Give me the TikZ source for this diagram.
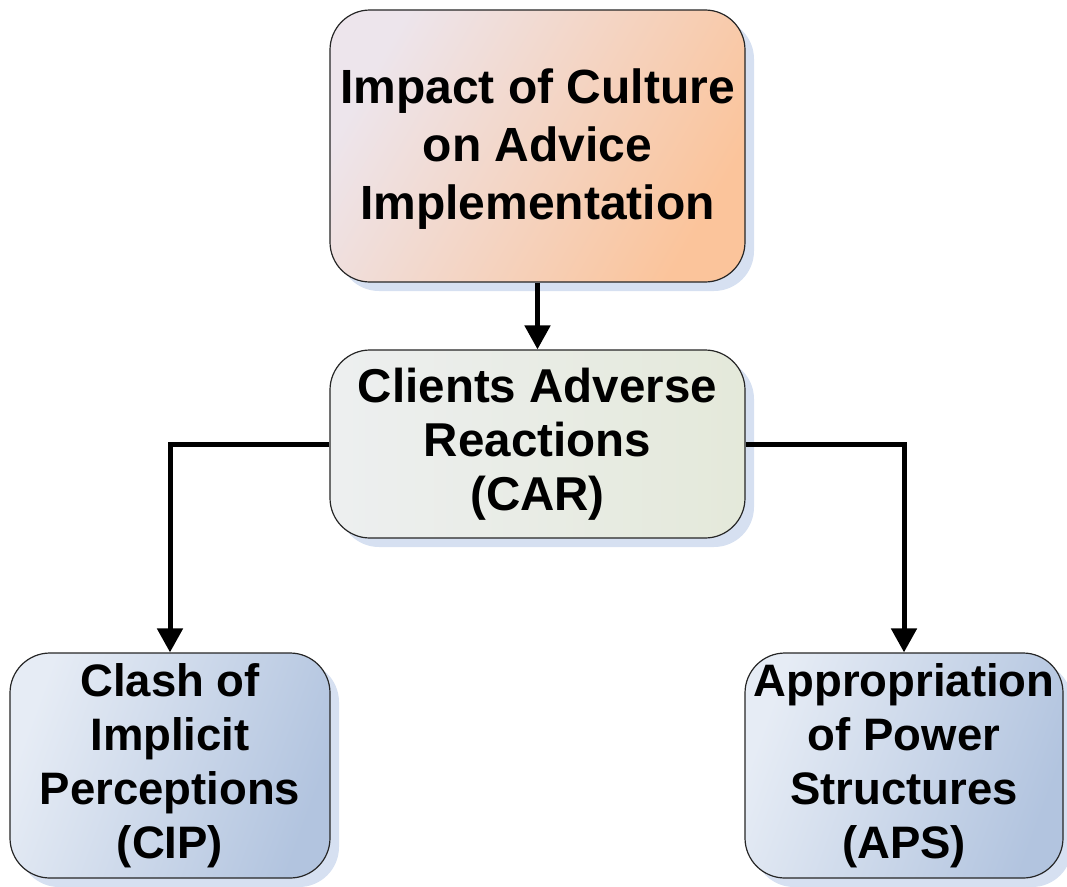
\documentclass[tikz,border=0pt]{standalone}
\usepackage{fontspec}
\setmainfont{Liberation Sans}
\usetikzlibrary{arrows.meta,shadows}
\definecolor{shadowblue}{HTML}{D6E0F1}
\definecolor{orangeL}{HTML}{EDE5EC}
\definecolor{orangeR}{HTML}{FBC49B}
\definecolor{greenL}{HTML}{EDEFF0}
\definecolor{greenR}{HTML}{E4E9DA}
\definecolor{blueL}{HTML}{E6ECF5}
\definecolor{blueR}{HTML}{B2C4DF}
\tikzset{
  box/.style={draw=black!85, line width=1.2pt, rounded corners=40pt, align=center,
    inner sep=0pt, font=\fontsize{45.5}{54}\selectfont\bfseries,
    drop shadow={shadow xshift=9pt, shadow yshift=-9pt, fill=shadowblue, opacity=1}},
  conn/.style={line width=5pt, -{Triangle[width=25pt,length=24pt]}}
}
\begin{document}
\begin{tikzpicture}[x=1pt,y=-1pt]
\useasboundingbox (0,0) rectangle (1067,886);
\node[box, minimum width=415pt, minimum height=272pt, left color=orangeL, right color=orangeR, shading angle=60,
  font=\fontsize{48}{58}\selectfont\bfseries] (top) at (537.5,146)
  {\rule{0pt}{41pt}Impact of Culture\\on Advice\\Implementation};
\node[box, minimum width=415pt, minimum height=188pt, left color=greenL, right color=greenR,
  font=\fontsize{47.5}{54}\selectfont\bfseries] (car) at (537.5,444)
  {Clients Adverse\\Reactions\\(CAR)};
\node[box, minimum width=320pt, minimum height=225pt, left color=blueL, right color=blueR, shading angle=70] (cip) at (170,765.5)
  {Clash of\\Implicit\\Perceptions\\(CIP)};
\node[box, minimum width=318pt, minimum height=225pt, left color=blueL, right color=blueR, shading angle=70] (aps) at (904,765.5)
  {Appropriation\\of Power\\Structures\\(APS)};
\draw[conn] (top.south) -- (car.north);
\draw[conn] (car.west) -| (cip.north);
\draw[conn] (car.east) -| (aps.north);
\end{tikzpicture}
\end{document}
